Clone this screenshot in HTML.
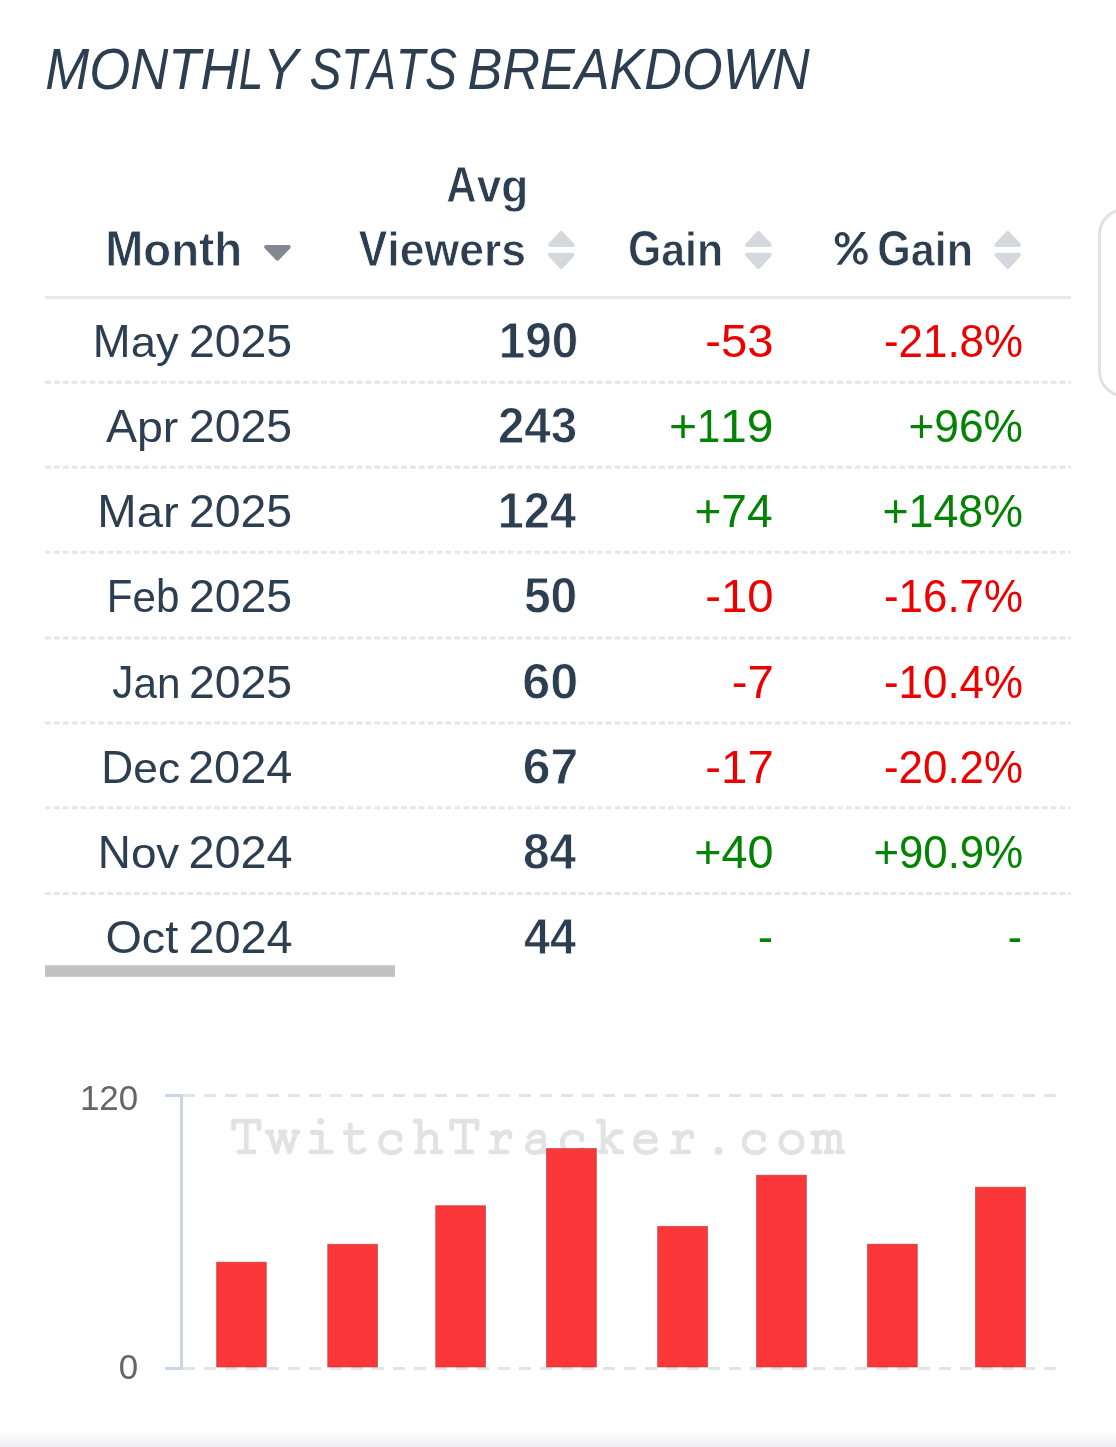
<!DOCTYPE html>
<html><head><meta charset="utf-8"><title>Monthly Stats Breakdown</title>
<style>
html,body{margin:0;padding:0;background:#fff;}
body{width:1116px;height:1447px;position:relative;overflow:hidden;font-family:"Liberation Sans",sans-serif;color:#2c3e50;}
.full{position:absolute;left:0;top:0;display:block;will-change:transform;}
</style></head><body>
<svg class="full" width="1116" height="1447" viewBox="0 0 1116 1447" font-family="Liberation Sans">
<rect x="45" y="296" width="1026" height="3" fill="#e7eaeb"/>
<line x1="45" y1="382.35" x2="1071" y2="382.35" stroke="#e4e7e8" stroke-width="3" stroke-dasharray="5.9 3"/>
<line x1="45" y1="467.30" x2="1071" y2="467.30" stroke="#e4e7e8" stroke-width="3" stroke-dasharray="5.9 3"/>
<line x1="45" y1="552.30" x2="1071" y2="552.30" stroke="#e4e7e8" stroke-width="3" stroke-dasharray="5.9 3"/>
<line x1="45" y1="638.00" x2="1071" y2="638.00" stroke="#e4e7e8" stroke-width="3" stroke-dasharray="5.9 3"/>
<line x1="45" y1="723.00" x2="1071" y2="723.00" stroke="#e4e7e8" stroke-width="3" stroke-dasharray="5.9 3"/>
<line x1="45" y1="807.80" x2="1071" y2="807.80" stroke="#e4e7e8" stroke-width="3" stroke-dasharray="5.9 3"/>
<line x1="45" y1="893.60" x2="1071" y2="893.60" stroke="#e4e7e8" stroke-width="3" stroke-dasharray="5.9 3"/>
<polygon points="266.30,247.00 288.60,247.00 277.45,258.50" fill="#818892" stroke="#818892" stroke-width="4.2" stroke-linejoin="round"/>
<polygon points="561.25,233.10 550.10,244.90 572.40,244.90" fill="#d5d8dc" stroke="#d5d8dc" stroke-width="4.2" stroke-linejoin="round"/>
<polygon points="550.10,254.90 572.40,254.90 561.25,266.70" fill="#d5d8dc" stroke="#d5d8dc" stroke-width="4.2" stroke-linejoin="round"/>
<polygon points="758.45,233.10 747.30,244.90 769.60,244.90" fill="#d5d8dc" stroke="#d5d8dc" stroke-width="4.2" stroke-linejoin="round"/>
<polygon points="747.30,254.90 769.60,254.90 758.45,266.70" fill="#d5d8dc" stroke="#d5d8dc" stroke-width="4.2" stroke-linejoin="round"/>
<polygon points="1007.75,233.10 996.60,244.90 1018.90,244.90" fill="#d5d8dc" stroke="#d5d8dc" stroke-width="4.2" stroke-linejoin="round"/>
<polygon points="996.60,254.90 1018.90,254.90 1007.75,266.70" fill="#d5d8dc" stroke="#d5d8dc" stroke-width="4.2" stroke-linejoin="round"/>
<g font-size="58.26" fill="#2c3e50" font-style="italic"><text x="45.16" y="88.70" textLength="43.98" lengthAdjust="spacingAndGlyphs">M</text><text x="89.13" y="88.70" textLength="41.08" lengthAdjust="spacingAndGlyphs">O</text><text x="130.20" y="88.70" textLength="38.14" lengthAdjust="spacingAndGlyphs">N</text><text x="168.32" y="88.70" textLength="32.26" lengthAdjust="spacingAndGlyphs">T</text><text x="200.56" y="88.70" textLength="38.14" lengthAdjust="spacingAndGlyphs">H</text><text x="238.68" y="88.70" textLength="24.53" lengthAdjust="spacingAndGlyphs">L</text><text x="263.20" y="88.70" textLength="35.23" lengthAdjust="spacingAndGlyphs">Y</text></g>
<g font-size="58.26" fill="#2c3e50" font-style="italic"><text x="309.60" y="88.70" textLength="31.99" lengthAdjust="spacingAndGlyphs">S</text><text x="341.58" y="88.70" textLength="25.75" lengthAdjust="spacingAndGlyphs">T</text><text x="367.32" y="88.70" textLength="28.43" lengthAdjust="spacingAndGlyphs">A</text><text x="395.73" y="88.70" textLength="29.31" lengthAdjust="spacingAndGlyphs">T</text><text x="425.03" y="88.70" textLength="31.99" lengthAdjust="spacingAndGlyphs">S</text></g>
<g font-size="58.26" fill="#2c3e50" font-style="italic"><text x="467.42" y="88.70" textLength="34.82" lengthAdjust="spacingAndGlyphs">B</text><text x="502.22" y="88.70" textLength="37.70" lengthAdjust="spacingAndGlyphs">R</text><text x="539.91" y="88.70" textLength="34.83" lengthAdjust="spacingAndGlyphs">E</text><text x="574.73" y="88.70" textLength="34.82" lengthAdjust="spacingAndGlyphs">A</text><text x="609.53" y="88.70" textLength="34.83" lengthAdjust="spacingAndGlyphs">K</text><text x="644.35" y="88.70" textLength="37.70" lengthAdjust="spacingAndGlyphs">D</text><text x="682.04" y="88.70" textLength="40.61" lengthAdjust="spacingAndGlyphs">O</text><text x="722.63" y="88.70" textLength="49.28" lengthAdjust="spacingAndGlyphs">W</text><text x="771.90" y="88.70" textLength="37.70" lengthAdjust="spacingAndGlyphs">N</text></g>
<g font-size="49.86" fill="#2c3e50" font-weight="bold" stroke="#fff" stroke-width="0.80"><text x="105.35" y="266.10" textLength="38.00" lengthAdjust="spacingAndGlyphs">M</text><g transform="matrix(1 0 0 0.945 0 14.636)"><text x="143.34" y="266.10" textLength="27.87" lengthAdjust="spacingAndGlyphs">o</text></g><g transform="matrix(1 0 0 0.945 0 14.636)"><text x="171.19" y="266.10" textLength="27.87" lengthAdjust="spacingAndGlyphs">n</text></g><g transform="matrix(1 0 0 0.980 0 5.322)"><text x="199.04" y="266.10" textLength="15.21" lengthAdjust="spacingAndGlyphs">t</text></g><g transform="matrix(1 0 0 0.980 0 5.322)"><text x="214.23" y="266.10" textLength="27.87" lengthAdjust="spacingAndGlyphs">h</text></g></g>
<g font-size="49.42" fill="#2c3e50" font-weight="bold" stroke="#fff" stroke-width="0.80"><text x="446.34" y="202.10" textLength="30.30" lengthAdjust="spacingAndGlyphs">A</text><g transform="matrix(1 0 0 0.945 0 11.116)"><text x="476.63" y="202.10" textLength="24.60" lengthAdjust="spacingAndGlyphs">v</text></g><g transform="matrix(1 0 0 0.945 0 11.116)"><text x="501.21" y="202.10" textLength="27.03" lengthAdjust="spacingAndGlyphs">g</text></g></g>
<g font-size="49.86" fill="#2c3e50" font-weight="bold" stroke="#fff" stroke-width="0.80"><text x="358.47" y="266.10" textLength="28.91" lengthAdjust="spacingAndGlyphs">V</text><g transform="matrix(1 0 0 0.980 0 5.322)"><text x="387.36" y="266.10" textLength="12.39" lengthAdjust="spacingAndGlyphs">i</text></g><g transform="matrix(1 0 0 0.945 0 14.636)"><text x="399.74" y="266.10" textLength="24.78" lengthAdjust="spacingAndGlyphs">e</text></g><g transform="matrix(1 0 0 0.945 0 14.636)"><text x="424.51" y="266.10" textLength="34.67" lengthAdjust="spacingAndGlyphs">w</text></g><g transform="matrix(1 0 0 0.945 0 14.636)"><text x="459.16" y="266.10" textLength="24.78" lengthAdjust="spacingAndGlyphs">e</text></g><g transform="matrix(1 0 0 0.945 0 14.636)"><text x="483.92" y="266.10" textLength="17.35" lengthAdjust="spacingAndGlyphs">r</text></g><g transform="matrix(1 0 0 0.945 0 14.636)"><text x="501.26" y="266.10" textLength="24.79" lengthAdjust="spacingAndGlyphs">s</text></g></g>
<g font-size="49.86" fill="#2c3e50" font-weight="bold" stroke="#fff" stroke-width="0.80"><text x="627.89" y="266.10" textLength="33.34" lengthAdjust="spacingAndGlyphs">G</text><g transform="matrix(1 0 0 0.945 0 14.636)"><text x="661.21" y="266.10" textLength="23.83" lengthAdjust="spacingAndGlyphs">a</text></g><g transform="matrix(1 0 0 0.980 0 5.322)"><text x="685.03" y="266.10" textLength="11.92" lengthAdjust="spacingAndGlyphs">i</text></g><g transform="matrix(1 0 0 0.945 0 14.636)"><text x="696.94" y="266.10" textLength="26.18" lengthAdjust="spacingAndGlyphs">n</text></g></g>
<g font-size="49.86" fill="#2c3e50" font-weight="bold" stroke="#fff" stroke-width="0.80"><text x="877.22" y="265.90" textLength="33.52" lengthAdjust="spacingAndGlyphs">G</text><g transform="matrix(1 0 0 0.945 0 14.624)"><text x="910.73" y="265.90" textLength="23.96" lengthAdjust="spacingAndGlyphs">a</text></g><g transform="matrix(1 0 0 0.980 0 5.318)"><text x="934.67" y="265.90" textLength="11.99" lengthAdjust="spacingAndGlyphs">i</text></g><g transform="matrix(1 0 0 0.945 0 14.624)"><text x="946.65" y="265.90" textLength="26.32" lengthAdjust="spacingAndGlyphs">n</text></g></g>
<g font-size="46.38" fill="#2c3e50"><text x="92.86" y="357.10" textLength="37.82" lengthAdjust="spacingAndGlyphs">M</text><g transform="matrix(1 0 0 0.930 0 24.997)"><text x="130.66" y="357.10" textLength="25.26" lengthAdjust="spacingAndGlyphs">a</text></g><g transform="matrix(1 0 0 0.930 0 24.997)"><text x="155.91" y="357.10" textLength="22.71" lengthAdjust="spacingAndGlyphs">y</text></g></g>
<g font-size="46.38" fill="#2c3e50"><text x="188.93" y="357.10" textLength="25.79" lengthAdjust="spacingAndGlyphs">2</text><text x="214.71" y="357.10" textLength="25.81" lengthAdjust="spacingAndGlyphs">0</text><text x="240.50" y="357.10" textLength="25.79" lengthAdjust="spacingAndGlyphs">2</text><text x="266.27" y="357.10" textLength="25.81" lengthAdjust="spacingAndGlyphs">5</text></g>
<g font-size="49.42" fill="#2c3e50" font-weight="bold" stroke="#fff" stroke-width="0.80"><text x="498.73" y="358.20" textLength="26.48" lengthAdjust="spacingAndGlyphs">1</text><text x="525.20" y="358.20" textLength="26.50" lengthAdjust="spacingAndGlyphs">9</text><text x="551.68" y="358.20" textLength="26.48" lengthAdjust="spacingAndGlyphs">0</text></g>
<g font-size="46.38" fill="#ec0000"><text x="705.38" y="357.10" textLength="15.74" lengthAdjust="spacingAndGlyphs">-</text><text x="721.10" y="357.10" textLength="26.29" lengthAdjust="spacingAndGlyphs">5</text><text x="747.37" y="357.10" textLength="26.27" lengthAdjust="spacingAndGlyphs">3</text></g>
<g font-size="46.38" fill="#ec0000"><text x="883.96" y="357.10" textLength="14.63" lengthAdjust="spacingAndGlyphs">-</text><text x="898.58" y="357.10" textLength="24.44" lengthAdjust="spacingAndGlyphs">2</text><text x="923.00" y="357.10" textLength="24.42" lengthAdjust="spacingAndGlyphs">1</text><text x="947.41" y="357.10" textLength="12.22" lengthAdjust="spacingAndGlyphs">.</text><text x="959.61" y="357.10" textLength="24.42" lengthAdjust="spacingAndGlyphs">8</text><text x="984.02" y="357.10" textLength="39.05" lengthAdjust="spacingAndGlyphs">%</text></g>
<g font-size="46.38" fill="#2c3e50"><text x="105.96" y="442.20" textLength="31.03" lengthAdjust="spacingAndGlyphs">A</text><g transform="matrix(1 0 0 0.930 0 30.954)"><text x="136.97" y="442.20" textLength="25.89" lengthAdjust="spacingAndGlyphs">p</text></g><g transform="matrix(1 0 0 0.930 0 30.954)"><text x="162.84" y="442.20" textLength="15.50" lengthAdjust="spacingAndGlyphs">r</text></g></g>
<g font-size="46.38" fill="#2c3e50"><text x="188.93" y="442.20" textLength="25.79" lengthAdjust="spacingAndGlyphs">2</text><text x="214.71" y="442.20" textLength="25.81" lengthAdjust="spacingAndGlyphs">0</text><text x="240.50" y="442.20" textLength="25.79" lengthAdjust="spacingAndGlyphs">2</text><text x="266.27" y="442.20" textLength="25.81" lengthAdjust="spacingAndGlyphs">5</text></g>
<g font-size="49.42" fill="#2c3e50" font-weight="bold" stroke="#fff" stroke-width="0.80"><text x="497.92" y="443.30" textLength="26.40" lengthAdjust="spacingAndGlyphs">2</text><text x="524.31" y="443.30" textLength="26.42" lengthAdjust="spacingAndGlyphs">4</text><text x="550.71" y="443.30" textLength="26.40" lengthAdjust="spacingAndGlyphs">3</text></g>
<g font-size="46.38" fill="#038203"><text x="668.92" y="442.20" textLength="28.08" lengthAdjust="spacingAndGlyphs">+</text><text x="696.98" y="442.20" textLength="23.17" lengthAdjust="spacingAndGlyphs">1</text><text x="720.13" y="442.20" textLength="26.75" lengthAdjust="spacingAndGlyphs">1</text><text x="746.87" y="442.20" textLength="26.73" lengthAdjust="spacingAndGlyphs">9</text></g>
<g font-size="46.38" fill="#038203"><text x="908.41" y="442.20" textLength="25.91" lengthAdjust="spacingAndGlyphs">+</text><text x="934.30" y="442.20" textLength="24.67" lengthAdjust="spacingAndGlyphs">9</text><text x="958.95" y="442.20" textLength="24.68" lengthAdjust="spacingAndGlyphs">6</text><text x="983.62" y="442.20" textLength="39.44" lengthAdjust="spacingAndGlyphs">%</text></g>
<g font-size="46.38" fill="#2c3e50"><text x="97.29" y="527.10" textLength="39.37" lengthAdjust="spacingAndGlyphs">M</text><g transform="matrix(1 0 0 0.930 0 36.897)"><text x="136.64" y="527.10" textLength="26.30" lengthAdjust="spacingAndGlyphs">a</text></g><g transform="matrix(1 0 0 0.930 0 36.897)"><text x="162.93" y="527.10" textLength="15.74" lengthAdjust="spacingAndGlyphs">r</text></g></g>
<g font-size="46.38" fill="#2c3e50"><text x="188.93" y="527.10" textLength="25.79" lengthAdjust="spacingAndGlyphs">2</text><text x="214.71" y="527.10" textLength="25.81" lengthAdjust="spacingAndGlyphs">0</text><text x="240.50" y="527.10" textLength="25.79" lengthAdjust="spacingAndGlyphs">2</text><text x="266.27" y="527.10" textLength="25.81" lengthAdjust="spacingAndGlyphs">5</text></g>
<g font-size="49.42" fill="#2c3e50" font-weight="bold" stroke="#fff" stroke-width="0.80"><text x="497.77" y="528.20" textLength="26.10" lengthAdjust="spacingAndGlyphs">1</text><text x="523.85" y="528.20" textLength="26.11" lengthAdjust="spacingAndGlyphs">2</text><text x="549.95" y="528.20" textLength="26.10" lengthAdjust="spacingAndGlyphs">4</text></g>
<g font-size="46.38" fill="#038203"><text x="694.38" y="527.10" textLength="26.93" lengthAdjust="spacingAndGlyphs">+</text><text x="721.30" y="527.10" textLength="25.64" lengthAdjust="spacingAndGlyphs">7</text><text x="746.92" y="527.10" textLength="25.66" lengthAdjust="spacingAndGlyphs">4</text></g>
<g font-size="46.38" fill="#038203"><text x="882.43" y="527.10" textLength="26.15" lengthAdjust="spacingAndGlyphs">+</text><text x="908.57" y="527.10" textLength="24.90" lengthAdjust="spacingAndGlyphs">1</text><text x="933.45" y="527.10" textLength="24.91" lengthAdjust="spacingAndGlyphs">4</text><text x="958.35" y="527.10" textLength="24.91" lengthAdjust="spacingAndGlyphs">8</text><text x="983.25" y="527.10" textLength="39.81" lengthAdjust="spacingAndGlyphs">%</text></g>
<g font-size="46.38" fill="#2c3e50"><text x="106.77" y="612.20" textLength="25.72" lengthAdjust="spacingAndGlyphs">F</text><g transform="matrix(1 0 0 0.930 0 42.854)"><text x="132.48" y="612.20" textLength="23.44" lengthAdjust="spacingAndGlyphs">e</text></g><g transform="matrix(1 0 0 0.980 0 12.244)"><text x="155.90" y="612.20" textLength="23.44" lengthAdjust="spacingAndGlyphs">b</text></g></g>
<g font-size="46.38" fill="#2c3e50"><text x="188.94" y="612.20" textLength="25.79" lengthAdjust="spacingAndGlyphs">2</text><text x="214.71" y="612.20" textLength="25.80" lengthAdjust="spacingAndGlyphs">0</text><text x="240.50" y="612.20" textLength="25.79" lengthAdjust="spacingAndGlyphs">2</text><text x="266.28" y="612.20" textLength="25.80" lengthAdjust="spacingAndGlyphs">5</text></g>
<g font-size="49.42" fill="#2c3e50" font-weight="bold" stroke="#fff" stroke-width="0.80"><text x="523.88" y="613.30" textLength="26.65" lengthAdjust="spacingAndGlyphs">5</text><text x="550.51" y="613.30" textLength="26.67" lengthAdjust="spacingAndGlyphs">0</text></g>
<g font-size="46.38" fill="#ec0000"><text x="705.37" y="612.20" textLength="15.74" lengthAdjust="spacingAndGlyphs">-</text><text x="721.10" y="612.20" textLength="26.29" lengthAdjust="spacingAndGlyphs">1</text><text x="747.37" y="612.20" textLength="26.28" lengthAdjust="spacingAndGlyphs">0</text></g>
<g font-size="46.38" fill="#ec0000"><text x="883.96" y="612.20" textLength="14.63" lengthAdjust="spacingAndGlyphs">-</text><text x="898.58" y="612.20" textLength="24.44" lengthAdjust="spacingAndGlyphs">1</text><text x="923.00" y="612.20" textLength="24.42" lengthAdjust="spacingAndGlyphs">6</text><text x="947.41" y="612.20" textLength="12.22" lengthAdjust="spacingAndGlyphs">.</text><text x="959.61" y="612.20" textLength="24.42" lengthAdjust="spacingAndGlyphs">7</text><text x="984.02" y="612.20" textLength="39.05" lengthAdjust="spacingAndGlyphs">%</text></g>
<g font-size="46.38" fill="#2c3e50"><text x="112.37" y="697.60" textLength="21.12" lengthAdjust="spacingAndGlyphs">J</text><g transform="matrix(1 0 0 0.930 0 48.832)"><text x="133.49" y="697.60" textLength="23.49" lengthAdjust="spacingAndGlyphs">a</text></g><g transform="matrix(1 0 0 0.930 0 48.832)"><text x="156.96" y="697.60" textLength="23.51" lengthAdjust="spacingAndGlyphs">n</text></g></g>
<g font-size="46.38" fill="#2c3e50"><text x="188.94" y="697.60" textLength="25.79" lengthAdjust="spacingAndGlyphs">2</text><text x="214.71" y="697.60" textLength="25.80" lengthAdjust="spacingAndGlyphs">0</text><text x="240.50" y="697.60" textLength="25.79" lengthAdjust="spacingAndGlyphs">2</text><text x="266.28" y="697.60" textLength="25.80" lengthAdjust="spacingAndGlyphs">5</text></g>
<g font-size="49.42" fill="#2c3e50" font-weight="bold" stroke="#fff" stroke-width="0.80"><text x="522.29" y="698.70" textLength="27.97" lengthAdjust="spacingAndGlyphs">6</text><text x="550.24" y="698.70" textLength="27.99" lengthAdjust="spacingAndGlyphs">0</text></g>
<g font-size="46.38" fill="#ec0000"><text x="731.80" y="697.60" textLength="15.75" lengthAdjust="spacingAndGlyphs">-</text><text x="747.53" y="697.60" textLength="26.30" lengthAdjust="spacingAndGlyphs">7</text></g>
<g font-size="46.38" fill="#ec0000"><text x="883.96" y="697.60" textLength="14.63" lengthAdjust="spacingAndGlyphs">-</text><text x="898.58" y="697.60" textLength="24.44" lengthAdjust="spacingAndGlyphs">1</text><text x="923.00" y="697.60" textLength="24.42" lengthAdjust="spacingAndGlyphs">0</text><text x="947.41" y="697.60" textLength="12.22" lengthAdjust="spacingAndGlyphs">.</text><text x="959.61" y="697.60" textLength="24.42" lengthAdjust="spacingAndGlyphs">4</text><text x="984.02" y="697.60" textLength="39.05" lengthAdjust="spacingAndGlyphs">%</text></g>
<g font-size="46.38" fill="#2c3e50"><text x="101.35" y="782.70" textLength="31.96" lengthAdjust="spacingAndGlyphs">D</text><g transform="matrix(1 0 0 0.930 0 54.789)"><text x="133.29" y="782.70" textLength="24.63" lengthAdjust="spacingAndGlyphs">e</text></g><g transform="matrix(1 0 0 0.930 0 54.789)"><text x="157.90" y="782.70" textLength="22.14" lengthAdjust="spacingAndGlyphs">c</text></g></g>
<g font-size="46.38" fill="#2c3e50"><text x="188.01" y="782.70" textLength="26.10" lengthAdjust="spacingAndGlyphs">2</text><text x="214.09" y="782.70" textLength="26.11" lengthAdjust="spacingAndGlyphs">0</text><text x="240.19" y="782.70" textLength="26.10" lengthAdjust="spacingAndGlyphs">2</text><text x="266.27" y="782.70" textLength="26.11" lengthAdjust="spacingAndGlyphs">4</text></g>
<g font-size="49.42" fill="#2c3e50" font-weight="bold" stroke="#fff" stroke-width="0.80"><text x="522.86" y="783.80" textLength="27.71" lengthAdjust="spacingAndGlyphs">6</text><text x="550.55" y="783.80" textLength="27.72" lengthAdjust="spacingAndGlyphs">7</text></g>
<g font-size="46.38" fill="#ec0000"><text x="705.36" y="782.70" textLength="15.76" lengthAdjust="spacingAndGlyphs">-</text><text x="721.11" y="782.70" textLength="26.33" lengthAdjust="spacingAndGlyphs">1</text><text x="747.42" y="782.70" textLength="26.31" lengthAdjust="spacingAndGlyphs">7</text></g>
<g font-size="46.38" fill="#ec0000"><text x="883.96" y="782.70" textLength="14.63" lengthAdjust="spacingAndGlyphs">-</text><text x="898.58" y="782.70" textLength="24.44" lengthAdjust="spacingAndGlyphs">2</text><text x="923.00" y="782.70" textLength="24.42" lengthAdjust="spacingAndGlyphs">0</text><text x="947.41" y="782.70" textLength="12.22" lengthAdjust="spacingAndGlyphs">.</text><text x="959.61" y="782.70" textLength="24.42" lengthAdjust="spacingAndGlyphs">2</text><text x="984.02" y="782.70" textLength="39.05" lengthAdjust="spacingAndGlyphs">%</text></g>
<g font-size="46.38" fill="#2c3e50"><text x="97.79" y="867.70" textLength="33.12" lengthAdjust="spacingAndGlyphs">N</text><g transform="matrix(1 0 0 0.930 0 60.739)"><text x="130.89" y="867.70" textLength="25.52" lengthAdjust="spacingAndGlyphs">o</text></g><g transform="matrix(1 0 0 0.930 0 60.739)"><text x="156.39" y="867.70" textLength="22.94" lengthAdjust="spacingAndGlyphs">v</text></g></g>
<g font-size="46.38" fill="#2c3e50"><text x="188.51" y="867.70" textLength="26.04" lengthAdjust="spacingAndGlyphs">2</text><text x="214.54" y="867.70" textLength="26.06" lengthAdjust="spacingAndGlyphs">0</text><text x="240.58" y="867.70" textLength="26.04" lengthAdjust="spacingAndGlyphs">2</text><text x="266.60" y="867.70" textLength="26.06" lengthAdjust="spacingAndGlyphs">4</text></g>
<g font-size="49.42" fill="#2c3e50" font-weight="bold" stroke="#fff" stroke-width="0.80"><text x="522.90" y="868.80" textLength="26.57" lengthAdjust="spacingAndGlyphs">8</text><text x="549.45" y="868.80" textLength="26.59" lengthAdjust="spacingAndGlyphs">4</text></g>
<g font-size="46.38" fill="#038203"><text x="694.35" y="867.70" textLength="27.30" lengthAdjust="spacingAndGlyphs">+</text><text x="721.64" y="867.70" textLength="26.00" lengthAdjust="spacingAndGlyphs">4</text><text x="747.62" y="867.70" textLength="26.01" lengthAdjust="spacingAndGlyphs">0</text></g>
<g font-size="46.38" fill="#038203"><text x="873.44" y="867.70" textLength="25.56" lengthAdjust="spacingAndGlyphs">+</text><text x="898.99" y="867.70" textLength="24.34" lengthAdjust="spacingAndGlyphs">9</text><text x="923.31" y="867.70" textLength="24.35" lengthAdjust="spacingAndGlyphs">0</text><text x="947.64" y="867.70" textLength="12.18" lengthAdjust="spacingAndGlyphs">.</text><text x="959.80" y="867.70" textLength="24.34" lengthAdjust="spacingAndGlyphs">9</text><text x="984.13" y="867.70" textLength="38.91" lengthAdjust="spacingAndGlyphs">%</text></g>
<g font-size="46.38" fill="#2c3e50"><text x="105.41" y="953.30" textLength="36.38" lengthAdjust="spacingAndGlyphs">O</text><g transform="matrix(1 0 0 0.930 0 66.731)"><text x="141.77" y="953.30" textLength="23.39" lengthAdjust="spacingAndGlyphs">c</text></g><g transform="matrix(1 0 0 0.980 0 19.066)"><text x="165.15" y="953.30" textLength="13.01" lengthAdjust="spacingAndGlyphs">t</text></g></g>
<g font-size="46.38" fill="#2c3e50"><text x="188.51" y="953.30" textLength="26.04" lengthAdjust="spacingAndGlyphs">2</text><text x="214.54" y="953.30" textLength="26.06" lengthAdjust="spacingAndGlyphs">0</text><text x="240.58" y="953.30" textLength="26.04" lengthAdjust="spacingAndGlyphs">2</text><text x="266.60" y="953.30" textLength="26.06" lengthAdjust="spacingAndGlyphs">4</text></g>
<g font-size="49.42" fill="#2c3e50" font-weight="bold" stroke="#fff" stroke-width="0.80"><text x="523.92" y="954.40" textLength="26.07" lengthAdjust="spacingAndGlyphs">4</text><text x="549.98" y="954.40" textLength="26.08" lengthAdjust="spacingAndGlyphs">4</text></g>
<g font-size="46.38" fill="#038203"><text x="757.79" y="953.30" textLength="15.43" lengthAdjust="spacingAndGlyphs">-</text></g>
<g font-size="46.38" fill="#038203"><text x="1007.76" y="953.30" textLength="14.27" lengthAdjust="spacingAndGlyphs">-</text></g>
<path d="M834.75,239.80 a7.45,7.80 0 1 0 14.90,0 a7.45,7.80 0 1 0 -14.90,0 Z M838.80,239.80 a3.30,4.60 0 1 0 6.60,0 a3.30,4.60 0 1 0 -6.60,0 Z M853.00,256.40 a7.40,8.40 0 1 0 14.80,0 a7.40,8.40 0 1 0 -14.80,0 Z M856.90,256.60 a3.40,5.00 0 1 0 6.80,0 a3.40,5.00 0 1 0 -6.80,0 Z " fill="#2c3e50" fill-rule="evenodd"/>
<polygon points="860.9,232 865.9,232 841.3,264.8 836.6,264.8" fill="#2c3e50"/>
<rect x="45" y="965.3" width="350" height="11.5" fill="#c1c1c1"/>
<g fill="none" stroke="#e2e2e2" stroke-width="4.80" stroke-linecap="round" stroke-linejoin="round"><path transform="translate(246.25 1154.60)" d="M-12.7,-25.9 V-33.5 H12.7 V-25.9 M0,-33.5 V-2.65 M-7.7,-2.65 H7.7"/><path transform="translate(282.60 1154.60)" d="M-15.7,-22.6 H-10.6 M-2.6,-22.6 H2.6 M11.1,-22.6 H15.7 M-13.1,-22.6 L-6.1,-2.65 L0,-22.6 L6.8,-2.65 L13.4,-22.6"/><path transform="translate(318.94 1154.60)" d="M-6.9,-22.1 H2.25 V-2.65 M-8,-2.65 H12.5"/><path transform="translate(355.30 1154.60)" d="M-5,-29.6 V-9 C-5,-4.2 -2.2,-2.2 1.8,-2.2 C4.6,-2.2 6.6,-3.2 8.6,-4.8 M-10.1,-22.1 H6.7"/><path transform="translate(391.64 1154.60)" d="M8.2,-14.6 V-19.6 C5,-21.9 2.2,-22.55 -0.6,-22.55 C-6.8,-22.55 -11,-18.2 -11,-12.2 C-11,-5.6 -6.6,-1.85 -0.4,-1.85 C3.2,-1.85 6.2,-3 8.6,-5.4"/><path transform="translate(428.00 1154.60)" d="M-12.9,-33.35 H-7.9 V-2.65 M-11.7,-2.65 H-4.2 M-7.9,-16 C-5.4,-20.4 -1.8,-22.6 1.8,-22.6 C5.8,-22.6 7.6,-20.4 7.6,-16.4 V-2.65 M4.4,-2.65 H13.1"/><path transform="translate(464.35 1154.60)" d="M-12.7,-25.9 V-33.5 H12.7 V-25.9 M0,-33.5 V-2.65 M-7.7,-2.65 H7.7"/><path transform="translate(500.69 1154.60)" d="M-8.4,-21.6 H-3.8 V-2.65 M-10,-2.65 H6.1 M-3.8,-14.2 C-1.4,-19.6 2.6,-22.6 6.2,-22.6 C8.2,-22.6 9.3,-21.6 9.3,-20 V-17.6"/><path transform="translate(537.05 1154.60)" d="M-8.2,-17.4 C-5.2,-21.4 -2.2,-22.6 0.4,-22.6 C4.4,-22.6 6.6,-20.6 6.6,-17 V-2.65 H10.4 M6.6,-13.4 H-0.8 C-6.4,-13.4 -9.6,-11 -9.6,-7.4 C-9.6,-4 -6.6,-2 -2.6,-2 C1.4,-2 4.4,-3.4 6.6,-6"/><path transform="translate(573.39 1154.60)" d="M8.2,-14.6 V-19.6 C5,-21.9 2.2,-22.55 -0.6,-22.55 C-6.8,-22.55 -11,-18.2 -11,-12.2 C-11,-5.6 -6.6,-1.85 -0.4,-1.85 C3.2,-1.85 6.2,-3 8.6,-5.4"/><path transform="translate(609.75 1154.60)" d="M-11.75,-33.35 H-6.65 V-2.65 M-9.6,-2.65 H-3.8 M-6.65,-10 L5.2,-22.6 M4,-22.6 H11.4 M-1.6,-14.2 L7.2,-2.65 M5,-2.65 H12.5"/><path transform="translate(646.10 1154.60)" d="M-10.45,-13.2 H9.45 C9.45,-19 5.2,-22.55 -0.4,-22.55 C-6.6,-22.55 -10.45,-18 -10.45,-12.2 C-10.45,-5.6 -6,-1.85 0,-1.85 C4,-1.85 7,-3 9.5,-5.5"/><path transform="translate(682.44 1154.60)" d="M-8.4,-21.6 H-3.8 V-2.65 M-10,-2.65 H6.1 M-3.8,-14.2 C-1.4,-19.6 2.6,-22.6 6.2,-22.6 C8.2,-22.6 9.3,-21.6 9.3,-20 V-17.6"/><path transform="translate(755.14 1154.60)" d="M8.2,-14.6 V-19.6 C5,-21.9 2.2,-22.55 -0.6,-22.55 C-6.8,-22.55 -11,-18.2 -11,-12.2 C-11,-5.6 -6.6,-1.85 -0.4,-1.85 C3.2,-1.85 6.2,-3 8.6,-5.4"/><path transform="translate(791.50 1154.60)" d="M0,-22.4 C6.2,-22.4 10.6,-18 10.6,-12.1 C10.6,-6.2 6.2,-1.85 0,-1.85 C-6.2,-1.85 -10.6,-6.2 -10.6,-12.1 C-10.6,-18 -6.2,-22.4 0,-22.4 Z"/><path transform="translate(827.85 1154.60)" d="M-15.3,-21.6 H-11.05 V-2.65 M-14.9,-2.65 H-7.7 M-11.05,-18 C-9.2,-21.4 -7,-22.6 -4.6,-22.6 C-1.2,-22.6 0.65,-21 0.65,-17.4 V-2.65 M-1.6,-2.65 H4 M0.65,-18 C2.6,-21.4 4.6,-22.6 7,-22.6 C10,-22.6 11.55,-21 11.55,-17.4 V-2.65 M9.4,-2.65 H14.9"/></g><g fill="#e2e2e2"><circle cx="320.69" cy="1121.30" r="3.40"/><circle cx="718.60" cy="1150.90" r="3.90"/></g>
<line x1="183" y1="1095.5" x2="1055.5" y2="1095.5" stroke="#e3e3e3" stroke-width="3" stroke-dasharray="12 9"/>
<line x1="183" y1="1368.5" x2="1055.5" y2="1368.5" stroke="#e3e3e3" stroke-width="3" stroke-dasharray="12 9"/>
<rect x="216.60" y="1262.20" width="49.70" height="104.80" fill="#fc3739" stroke="#a83434" stroke-opacity="0.55" stroke-width="1"/>
<rect x="327.70" y="1244.30" width="49.80" height="122.70" fill="#fc3739" stroke="#a83434" stroke-opacity="0.55" stroke-width="1"/>
<rect x="435.70" y="1205.70" width="49.80" height="161.30" fill="#fc3739" stroke="#a83434" stroke-opacity="0.55" stroke-width="1"/>
<rect x="546.50" y="1148.50" width="49.90" height="218.50" fill="#fc3739" stroke="#a83434" stroke-opacity="0.55" stroke-width="1"/>
<rect x="657.60" y="1226.40" width="50.00" height="140.60" fill="#fc3739" stroke="#a83434" stroke-opacity="0.55" stroke-width="1"/>
<rect x="756.50" y="1175.20" width="49.90" height="191.80" fill="#fc3739" stroke="#a83434" stroke-opacity="0.55" stroke-width="1"/>
<rect x="867.50" y="1244.20" width="49.80" height="122.80" fill="#fc3739" stroke="#a83434" stroke-opacity="0.55" stroke-width="1"/>
<rect x="975.50" y="1187.20" width="50.00" height="179.80" fill="#fc3739" stroke="#a83434" stroke-opacity="0.55" stroke-width="1"/>
<rect x="180" y="1094" width="3" height="276" fill="#ccd6eb"/>
<rect x="165" y="1094" width="18" height="3" fill="#ccd6eb"/>
<rect x="165" y="1367" width="18" height="3" fill="#ccd6eb"/>
<text x="138.1" y="1109.60" text-anchor="end" font-size="34.87" fill="#666666">120</text>
<text x="138.2" y="1378.60" text-anchor="end" font-size="34.87" fill="#666666">0</text>
<rect x="1099.5" y="209.5" width="60" height="186.5" rx="25" ry="25" fill="none" stroke="#e2e2e2" stroke-width="3"/>
<defs><linearGradient id="sh" x1="0" y1="0" x2="0" y2="1"><stop offset="0" stop-color="#efeff1" stop-opacity="0"/><stop offset="0.5" stop-color="#efeff1" stop-opacity="0.45"/><stop offset="1" stop-color="#eeeef0"/></linearGradient></defs>
<rect x="0" y="1430" width="1116" height="17" fill="url(#sh)"/>
</svg>
</body></html>
